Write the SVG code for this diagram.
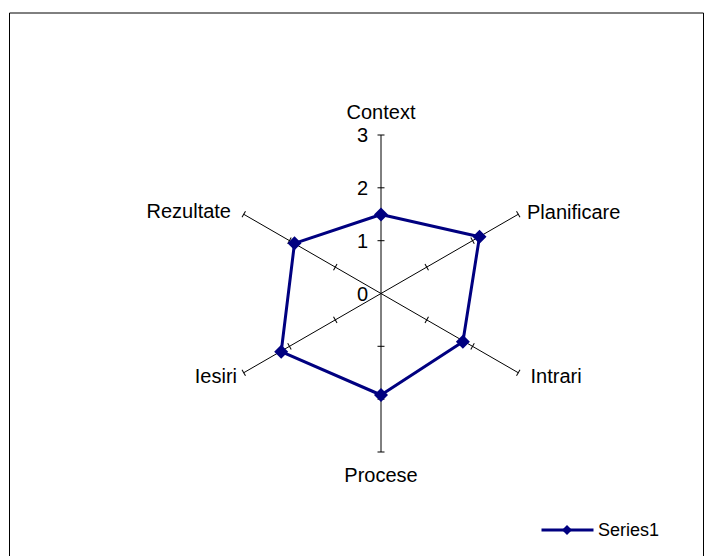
<svg xmlns="http://www.w3.org/2000/svg" width="717" height="556" viewBox="0 0 717 556">
  <defs>
    <style>
      .lbl { font-family: "Liberation Sans", Arial, sans-serif; font-size: 20px; fill: #000; }
      .axis { stroke: #000; stroke-width: 1; fill: none; }
      .series { stroke: #000080; stroke-width: 3; fill: none; stroke-linejoin: round; }
      .mk { fill: #000080; }
    </style>
    <path id="diamond" d="M0,-7 L7,0 L0,7 L-7,0 Z"/>
    <path id="tick" d="M0,-3.5 L0,3.5"/>
  </defs>

  <rect width="717" height="556" fill="#fff"/>
  <!-- chart frame -->
  <path d="M9.5,560 L9.5,13 L703.5,13 L703.5,560" fill="none" stroke="#000" stroke-width="1"/>

  <!-- axes and tick marks -->
  <g id="connectors">
    <g id="axes" class="axis">
      <line x1="381" y1="293.5" x2="381" y2="135"/>
      <line x1="381" y1="293.5" x2="518.3" y2="214.25"/>
      <line x1="381" y1="293.5" x2="518.3" y2="372.75"/>
      <line x1="381" y1="293.5" x2="381" y2="452"/>
      <line x1="381" y1="293.5" x2="243.7" y2="372.75"/>
      <line x1="381" y1="293.5" x2="243.7" y2="214.25"/>
    </g>
    <g id="ticks" class="axis">
      <!-- vertical axes: horizontal ticks -->
      <line x1="377.5" y1="240.7" x2="384.5" y2="240.7"/>
      <line x1="377.5" y1="187.8" x2="384.5" y2="187.8"/>
      <line x1="377.5" y1="135" x2="384.5" y2="135"/>
      <line x1="377.5" y1="346.3" x2="384.5" y2="346.3"/>
      <line x1="377.5" y1="399.2" x2="384.5" y2="399.2"/>
      <line x1="377.5" y1="452" x2="384.5" y2="452"/>
      <!-- diagonal axes: perpendicular ticks -->
      <g transform="translate(381,293.5) rotate(-30)">
        <line x1="52.8" y1="-3.5" x2="52.8" y2="3.5"/>
        <line x1="105.7" y1="-3.5" x2="105.7" y2="3.5"/>
        <line x1="158.5" y1="-3.5" x2="158.5" y2="3.5"/>
      </g>
      <g transform="translate(381,293.5) rotate(30)">
        <line x1="52.8" y1="-3.5" x2="52.8" y2="3.5"/>
        <line x1="105.7" y1="-3.5" x2="105.7" y2="3.5"/>
        <line x1="158.5" y1="-3.5" x2="158.5" y2="3.5"/>
      </g>
      <g transform="translate(381,293.5) rotate(150)">
        <line x1="52.8" y1="-3.5" x2="52.8" y2="3.5"/>
        <line x1="105.7" y1="-3.5" x2="105.7" y2="3.5"/>
        <line x1="158.5" y1="-3.5" x2="158.5" y2="3.5"/>
      </g>
      <g transform="translate(381,293.5) rotate(210)">
        <line x1="52.8" y1="-3.5" x2="52.8" y2="3.5"/>
        <line x1="105.7" y1="-3.5" x2="105.7" y2="3.5"/>
        <line x1="158.5" y1="-3.5" x2="158.5" y2="3.5"/>
      </g>
    </g>
    <!-- data series outline -->
    <polygon id="series1-line" class="series" points="381,214.5 479.5,236.7 462.9,341.7 381,395 281.2,351.7 294.5,243.3"/>
  </g>

  <!-- scale numbers -->
  <g id="scale" class="lbl" text-anchor="end">
    <text x="368" y="142">3</text>
    <text x="368" y="195">2</text>
    <text x="368" y="248">1</text>
    <text x="368" y="301">0</text>
  </g>

  <!-- series markers -->
  <g id="markers" class="mk">
    <use href="#diamond" x="381" y="214.5"/>
    <use href="#diamond" x="479.5" y="236.7"/>
    <use href="#diamond" x="462.9" y="341.7"/>
    <use href="#diamond" x="381" y="395"/>
    <use href="#diamond" x="281.2" y="351.7"/>
    <use href="#diamond" x="294.5" y="243.3"/>
  </g>

  <!-- category nodes -->
  <g id="context"><text class="lbl" x="381" y="119" text-anchor="middle">Context</text></g>
  <g id="planificare"><text class="lbl" x="527" y="219">Planificare</text></g>
  <g id="intrari"><text class="lbl" x="530.5" y="383">Intrari</text></g>
  <g id="procese"><text class="lbl" x="381" y="482" text-anchor="middle">Procese</text></g>
  <g id="iesiri"><text class="lbl" x="237" y="383" text-anchor="end">Iesiri</text></g>
  <g id="rezultate"><text class="lbl" x="231" y="218" text-anchor="end">Rezultate</text></g>

  <!-- legend -->
  <g id="legend">
    <line x1="541.5" y1="530" x2="593.5" y2="530" stroke="#000080" stroke-width="3"/>
    <path d="M567,525 L572,530 L567,535 L562,530 Z" class="mk"/>
    <text x="598" y="536" font-family="'Liberation Sans', Arial, sans-serif" font-size="18">Series1</text>
  </g>
</svg>
